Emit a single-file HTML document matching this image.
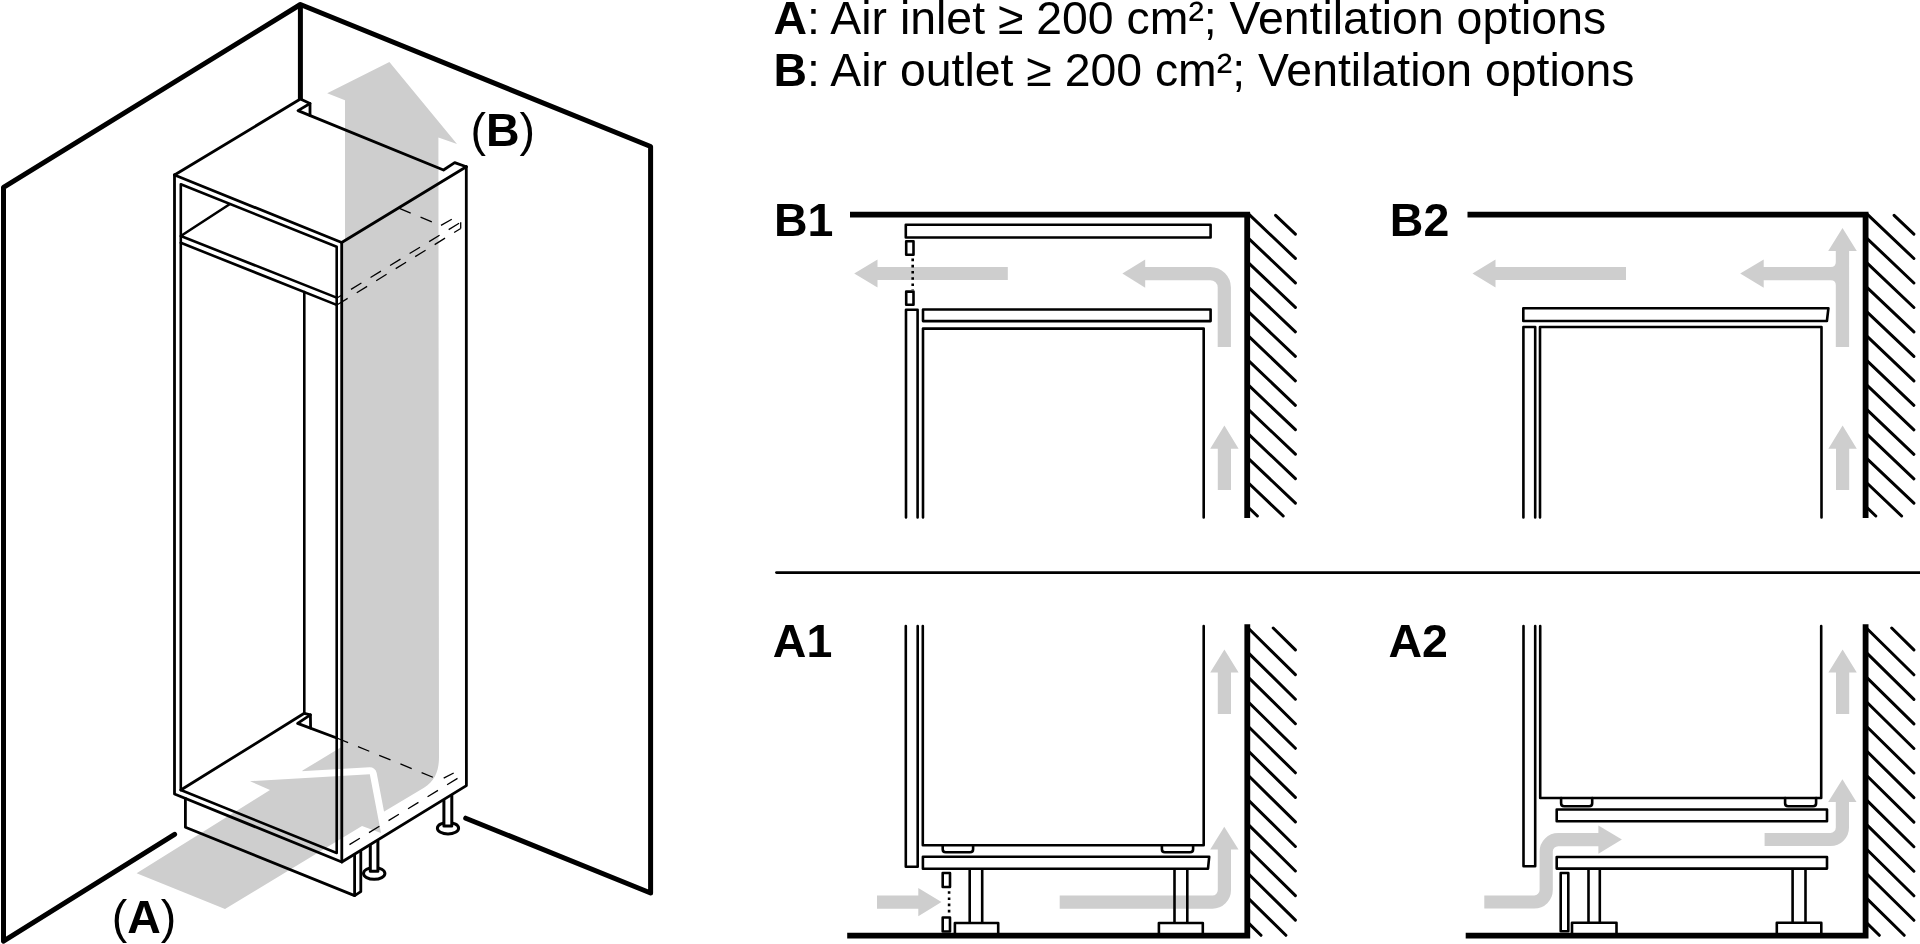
<!DOCTYPE html>
<html lang="en">
<head>
<meta charset="utf-8">
<title>Ventilation options</title>
<style>
html,body{margin:0;padding:0;background:#fff;overflow:hidden}
body{width:1920px;height:944px;position:relative;font-family:"Liberation Sans",Arial,sans-serif;color:#000}
svg{position:absolute;left:0;top:0;display:block;will-change:transform}
text{font-family:"Liberation Sans",Arial,sans-serif;fill:#000}
.b{font-weight:700}
.ln{fill:none;stroke:#000;stroke-width:2.8;stroke-linecap:round;stroke-linejoin:round}
.ln2{fill:none;stroke:#000;stroke-width:2.6;stroke-linecap:round;stroke-linejoin:round}
.wall{fill:none;stroke:#000;stroke-width:5;stroke-linecap:round;stroke-linejoin:round}
.dash{fill:none;stroke:#000;stroke-width:1.3;stroke-dasharray:12.2 10.7}
.g{fill:#cecece}
.gs{fill:none;stroke:#cecece;stroke-width:13.2;stroke-linejoin:round}
.sec{fill:#fff;stroke:#000;stroke-width:2.6;stroke-linejoin:round;stroke-linecap:round}
.thick{fill:none;stroke:#000;stroke-width:5.8;stroke-linejoin:miter;stroke-linecap:butt}
.hatch{fill:none;stroke:#000;stroke-width:3;stroke-linecap:round}
.dot{fill:none;stroke:#000;stroke-width:2.6;stroke-dasharray:2.6 3.6}
</style>
</head>
<body>
<svg width="1920" height="944" viewBox="0 0 1920 944">
<!-- ================= LEFT ISOMETRIC DRAWING ================= -->
<g id="iso">
  <!-- grey air arrows -->
  <path class="g" d="M389.4,62 L327.2,93.2 L345,100.2 L345,241 L343,242 L343,746 L302.5,770.6 L296,792 L375,817 L424,787.7 C435.9,780.7 439,769 439,757 L438.4,137.5 L457,144 Z"/>
  <path d="M136.6,873.2 L225,909.1 L362,826 L381,833 L369.8,774.3 L250,781.2 L270,790 Z" fill="#fff" stroke="#fff" stroke-width="14" stroke-linejoin="round"/>
  <path class="g" d="M136.6,873.2 L225,909.1 L362,826 L381,833 L369.8,774.3 L250,781.2 L270,790 Z"/>

  <!-- room walls -->
  <path class="wall" d="M174.6,834.3 L3.5,941.2 L3.5,187.3 L300.4,4.5 L650.6,146.5 L650.6,893 L465.7,818.2"/>
  <path class="wall" d="M300.4,4.5 L300.4,99" style="stroke-linecap:butt"/>

  <!-- legs -->
  <ellipse class="ln" cx="374.2" cy="873.4" rx="10.7" ry="5.9" style="fill:#fff;stroke-width:3"/>
  <path class="ln2" d="M370.3,845.5 L370.3,871.3 L377.9,871.3 L377.9,841" style="fill:#fff;stroke-width:3"/>
  <ellipse class="ln" cx="448" cy="828.2" rx="10.6" ry="5.7" style="fill:#fff;stroke-width:3"/>
  <path class="ln2" d="M443.9,800.5 L443.9,826 L451.8,826 L451.8,795.5" style="fill:#fff;stroke-width:3"/>

  <!-- plinth -->
  <path class="ln" d="M185.4,798.5 L185.4,827.2 L354.6,895.6 L354.6,855"/>
  <path class="ln" d="M354.6,895.6 L360.8,891.6 L360.8,851.5"/>

  <!-- cabinet top -->
  <path class="ln" d="M174.5,175 L300.4,99 L310,103.5 L310,115.5"/>
  <path class="ln" d="M310,103.5 L298,110.6 L443.5,170 L454.7,162.6 L466.3,166.7"/>
  <path class="ln" d="M174.5,175 L341.7,242.5 L466.3,166.7"/>
  <!-- frame verticals -->
  <path class="ln" d="M174.5,175 L174.5,794 L341.8,862 L466.4,785.6 L466.3,166.7"/>
  <path class="ln" d="M341.7,242.5 L341.8,862"/>
  <path class="ln2" d="M180.8,790 L180.8,184.2 L336.7,246.7 L336.7,853 Z"/>
  <!-- shelf -->
  <path class="ln2" d="M229.2,204.5 L180.8,236 L336.6,297.6"/>
  <path class="ln2" d="M180.8,242.8 L336.6,304.9"/>
  <!-- interior back corner -->
  <path class="ln2" d="M304.3,292 L304.3,713.3"/>
  <!-- interior floor -->
  <path class="ln" d="M180.8,790 L304.3,713.3 L310.4,714.8 L310.6,728"/>
  <path class="ln" d="M310.4,714.8 L297.6,723.4 L336.8,738"/>
  <!-- dashed hidden edges -->
  <path class="dash" d="M336.8,738 L433.3,777.4"/>
  <path class="dash" d="M457.5,778.4 L346,846.7"/>
  <path class="dash" d="M453.7,773 L443.7,778.2" style="stroke-dasharray:none"/>
  <path class="dash" d="M460.7,222.3 L336.6,298.2" style="stroke-dashoffset:-1.9"/>
  <path class="dash" d="M460.7,228.5 L336.6,305.2" style="stroke-dashoffset:4.5"/>
  <path class="dash" d="M460.7,222.3 L460.7,228.5" style="stroke-dasharray:none"/>
  <path class="dash" d="M451.8,219.2 L441,225.4" style="stroke-dasharray:none"/>
  <path class="dash" d="M399.4,208.4 L441,225.6"/>

  <text x="111.7" y="932.7" font-size="46.5">(<tspan class="b">A</tspan>)</text>
  <text x="470.5" y="146" font-size="46.5">(<tspan class="b">B</tspan>)</text>
</g>

<!-- ================= TITLES ================= -->
<text id="t1" x="773.6" y="34" font-size="46.4"><tspan class="b">A</tspan>: Air inlet ≥ 200 cm²; Ventilation options</text>
<text id="t2" x="773.6" y="86.2" font-size="46.4"><tspan class="b">B</tspan>: Air outlet ≥ 200 cm²; Ventilation options</text>

<!-- separator -->
<path d="M776.5,572.6 L1920,572.6" fill="none" stroke="#000" stroke-width="2.8" stroke-linecap="round"/>

<!-- SECTIONS -->
<g id="sections">
<g id="B1">
<path class="g" d="M854.2,273.5 L877.5,259.4 L877.5,266.9 L1007.8,266.9 L1007.8,280.1 L877.5,280.1 L877.5,287.6 Z"/>
<path class="gs" d="M1144,273.6 L1210.3,273.6 A14,14 0 0 1 1224.3,287.6 L1224.3,347"/>
<path class="g" d="M1122.4,273.6 L1145.2,259.5 L1145.2,287.8 Z"/>
<path class="g" d="M1224.4,425.5 L1238.6000000000001,448.7 L1231.0,448.7 L1231.0,490 L1217.8000000000002,490 L1217.8000000000002,448.7 L1210.2,448.7 Z"/>
<path class="thick" d="M850,214.7 L1247.2,214.7 L1247.2,518"/>
<path class="hatch" d="M1275.6,215.3 L1295.4,234.1 M1248.5,213.9 L1295.4,258.4 M1248.5,238.3 L1295.4,282.9 M1248.5,262.8 L1295.4,307.4 M1248.5,287.3 L1295.4,331.8 M1248.5,311.8 L1295.4,356.3 M1248.5,336.2 L1295.4,380.8 M1248.5,360.7 L1295.4,405.3 M1248.5,385.2 L1295.4,429.7 M1248.5,409.6 L1295.4,454.2 M1248.5,434.1 L1295.4,478.7 M1248.5,458.6 L1295.4,503.1 M1248.5,483.0 L1283.2,516.0 M1248.5,507.5 L1257.4,516.0"/>
<rect class="sec" x="905.8" y="224.7" width="304.8" height="12.8"/>
<rect class="sec" x="906.2" y="241.2" width="7.3" height="13.5"/>
<rect class="sec" x="906.2" y="291.6" width="7.3" height="13.2"/>
<path class="dot" d="M912.7,258.6 L912.7,290"/>
<path class="sec" d="M906,517.5 L906,309.8 L917.6,309.8 L917.6,517.5"/>
<rect class="sec" x="923" y="309.5" width="287.6" height="11.6"/>
<path class="sec" d="M923,517.5 L923,328.6 L1203.7,328.6 L1203.7,517.5"/>
<text class="b" x="774" y="236.3" font-size="46.5">B1</text>
</g>
<g id="B2">
<path class="g" d="M1472.5,273.5 L1495.5,259.4 L1495.5,266.9 L1626,266.9 L1626,280.1 L1495.5,280.1 L1495.5,287.6 Z"/>
<path class="g" d="M1842.5,228 L1856.8,251 L1849.1,251 L1849.1,347 L1835.8,347 L1835.8,285.2 Q1835.8,280.2 1830.8,280.2 L1763.7,280.2 L1763.7,287.8 L1740.2,273.6 L1763.7,259.5 L1763.7,267 L1830.8,267 Q1835.8,267 1835.8,262 L1835.8,251 L1828.2,251 Z"/>
<path class="g" d="M1842.6,425.5 L1856.8,448.7 L1849.1999999999998,448.7 L1849.1999999999998,490 L1836.0,490 L1836.0,448.7 L1828.3999999999999,448.7 Z"/>
<path class="thick" d="M1467.5,214.7 L1865.6,214.7 L1865.6,518"/>
<path class="hatch" d="M1894.1,215.3 L1913.9,234.1 M1866.9,213.9 L1913.9,258.5 M1866.9,238.3 L1913.9,283.0 M1866.9,262.8 L1913.9,307.5 M1866.9,287.3 L1913.9,331.9 M1866.9,311.8 L1913.9,356.4 M1866.9,336.2 L1913.9,380.9 M1866.9,360.7 L1913.9,405.3 M1866.9,385.2 L1913.9,429.8 M1866.9,409.6 L1913.9,454.3 M1866.9,434.1 L1913.9,478.8 M1866.9,458.6 L1913.9,503.2 M1866.9,483.0 L1901.6,516.0 M1866.9,507.5 L1875.8,516.0"/>
<path class="sec" d="M1523.3,308.3 L1828.4,308.3 L1826.9,321 L1523.3,321 Z"/>
<path class="sec" d="M1523.4,517.5 L1523.4,327 L1535.2,327 L1535.2,517.5"/>
<path class="sec" d="M1540,517.5 L1540,327 L1821.5,327 L1821.5,517.5"/>
<text class="b" x="1389.8" y="236.3" font-size="46.5">B2</text>
</g>
<g id="A1">
<path class="g" d="M877,895.6 L918.3,895.6 L918.3,888 L941.5,902.1 L918.3,916.3 L918.3,908.7 L877,908.7 Z"/>
<path class="gs" d="M1059.7,902.1 L1212.4,902.1 A12,12 0 0 0 1224.4,890.1 L1224.4,848.5"/>
<path class="g" d="M1224.3,826.7 L1238.5,849.6 L1210.2,849.6 Z"/>
<path class="g" d="M1224.4,649.5 L1238.6000000000001,672.6 L1231.0,672.6 L1231.0,713.9 L1217.8000000000002,713.9 L1217.8000000000002,672.6 L1210.2,672.6 Z"/>
<path class="thick" d="M847.2,935.6 L1247.3,935.6 L1247.3,624.2"/>
<path class="hatch" d="M1273.2,628.0 L1295.4,649.9 M1248.6,628.5 L1295.4,674.6 M1248.6,653.1 L1295.4,699.2 M1248.6,677.6 L1295.4,723.7 M1248.6,702.2 L1295.4,748.3 M1248.6,726.7 L1295.4,772.8 M1248.6,751.3 L1295.4,797.4 M1248.6,775.8 L1295.4,821.9 M1248.6,800.4 L1295.4,846.5 M1248.6,824.9 L1295.4,871.0 M1248.6,849.5 L1295.4,895.6 M1248.6,874.0 L1295.4,920.1 M1248.6,898.6 L1285.9,935.3 M1248.6,923.1 L1261.0,935.3"/>
<path class="sec" d="M905.8,626 L905.8,866.7 L917.7,866.7 L917.7,626" style="fill:none"/>
<path class="sec" d="M942.7,845.3 L942.7,849.3 Q942.7,852.3 945.7,852.3 L970.1,852.3 Q973.1,852.3 973.1,849.3 L973.1,845.3"/>
<path class="sec" d="M1161.9,845.3 L1161.9,849.3 Q1161.9,852.3 1164.9,852.3 L1190.1,852.3 Q1193.1,852.3 1193.1,849.3 L1193.1,845.3"/>
<path class="sec" d="M922.8,626 L922.8,845.3 L1203.7,845.3 L1203.7,626" style="fill:none"/>
<path class="sec" d="M922.9,856.8 L1209.2,856.8 L1208,868.7 L922.9,868.7 Z"/>
<rect class="sec" x="942.7" y="873" width="7.3" height="14"/>
<rect class="sec" x="942.7" y="917.5" width="7.3" height="14"/>
<path class="dot" d="M949.1,891.2 L949.1,916"/>
<path class="sec" d="M969.7,868.7 L969.7,923 M982.2,868.7 L982.2,923" style="fill:none;stroke-linecap:butt"/>
<path class="sec" d="M954.9,934 L954.9,923 L998.2,923 L998.2,934" style="fill:none"/>
<path class="sec" d="M1174.5,868.7 L1174.5,923 M1187.3,868.7 L1187.3,923" style="fill:none;stroke-linecap:butt"/>
<path class="sec" d="M1158.9,934 L1158.9,923 L1202.8,923 L1202.8,934" style="fill:none"/>
<text class="b" x="772.8" y="657.2" font-size="46.5">A1</text>
</g>
<g id="A2">
<path class="gs" d="M1484.3,902 L1534.2,902 A12,12 0 0 0 1546.2,890 L1546.2,851.6 A12,12 0 0 1 1558.2,839.6 L1599.4,839.6"/>
<path class="g" d="M1621.9,839.6 L1598.4,825.5 L1598.4,853.8 Z"/>
<path class="gs" d="M1764.6,839.5 L1830.4,839.5 A12,12 0 0 0 1842.4,827.5 L1842.4,801"/>
<path class="g" d="M1842.4,779.3 L1856.5,802 L1828.2,802 Z"/>
<path class="g" d="M1842.6,649.5 L1856.8,672.6 L1849.1999999999998,672.6 L1849.1999999999998,713.9 L1836.0,713.9 L1836.0,672.6 L1828.3999999999999,672.6 Z"/>
<path class="thick" d="M1465.7,935.6 L1865.6,935.6 L1865.6,624.2"/>
<path class="hatch" d="M1891.7,628.0 L1913.9,649.9 M1866.9,628.5 L1913.9,674.8 M1866.9,653.1 L1913.9,699.4 M1866.9,677.6 L1913.9,723.9 M1866.9,702.2 L1913.9,748.5 M1866.9,726.7 L1913.9,773.0 M1866.9,751.3 L1913.9,797.6 M1866.9,775.8 L1913.9,822.1 M1866.9,800.4 L1913.9,846.7 M1866.9,824.9 L1913.9,871.2 M1866.9,849.5 L1913.9,895.8 M1866.9,874.0 L1913.9,920.3 M1866.9,898.6 L1904.2,935.3 M1866.9,923.1 L1879.3,935.3"/>
<path class="sec" d="M1523.5,626 L1523.5,866.3 L1535.2,866.3 L1535.2,626" style="fill:none"/>
<path class="sec" d="M1561.1,798 L1561.1,803.3 Q1561.1,806.3 1564.1,806.3 L1589.2,806.3 Q1592.2,806.3 1592.2,803.3 L1592.2,798"/>
<path class="sec" d="M1785.1,798 L1785.1,803.3 Q1785.1,806.3 1788.1,806.3 L1813.1,806.3 Q1816.1,806.3 1816.1,803.3 L1816.1,798"/>
<path class="sec" d="M1540.2,626 L1540.2,798 L1821.2,798 L1821.2,626" style="fill:none"/>
<rect class="sec" x="1556.7" y="809.5" width="270.3" height="11.8"/>
<rect class="sec" x="1556.7" y="857" width="270.3" height="11.6"/>
<rect class="sec" x="1560.7" y="873" width="7.6" height="58.2"/>
<path class="sec" d="M1588.5,868.6 L1588.5,922.8 M1599.8,868.6 L1599.8,922.8" style="fill:none;stroke-linecap:butt"/>
<path class="sec" d="M1572,934 L1572,922.8 L1616.5,922.8 L1616.5,934" style="fill:none"/>
<path class="sec" d="M1792.6,868.6 L1792.6,922.8 M1805.5,868.6 L1805.5,922.8" style="fill:none;stroke-linecap:butt"/>
<path class="sec" d="M1776.8,934 L1776.8,922.8 L1821.3,922.8 L1821.3,934" style="fill:none"/>
<text class="b" x="1388.4" y="657.3" font-size="46.5">A2</text>
</g>
</g>
</svg>
</body>
</html>
